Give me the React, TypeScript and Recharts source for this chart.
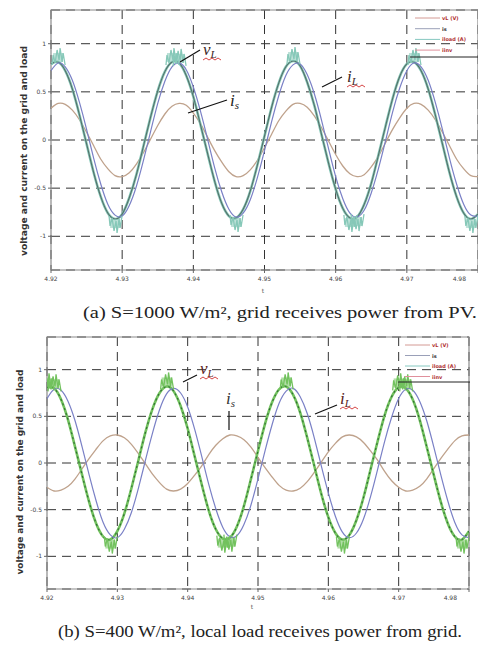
import { LineChart, Line, XAxis, YAxis, CartesianGrid, ReferenceArea } from 'recharts';

const timeA = [
  4.920, 4.921, 4.922, 4.923, 4.924, 4.925, 4.926, 4.927, 4.928, 4.929,
  4.930, 4.931, 4.932, 4.933, 4.934, 4.935, 4.936, 4.937, 4.938, 4.939,
  4.940, 4.941, 4.942, 4.943, 4.944, 4.945, 4.946, 4.947, 4.948, 4.949,
  4.950, 4.951, 4.952, 4.953, 4.954, 4.955, 4.956, 4.957, 4.958, 4.959,
  4.960, 4.961, 4.962, 4.963, 4.964, 4.965, 4.966, 4.967, 4.968, 4.969,
  4.970, 4.971, 4.972, 4.973, 4.974, 4.975, 4.976, 4.977, 4.978, 4.979, 4.980,
];

// (a) S=1000 W/m2
const vLoadA = [
  0.79, 0.81, 0.72, 0.53, 0.26, -0.04, -0.34, -0.59, -0.76, -0.82,
  -0.77, -0.60, -0.36, -0.06, 0.24, 0.51, 0.71, 0.81, 0.80, 0.67,
  0.45, 0.16, -0.14, -0.43, -0.66, -0.79, -0.81, -0.72, -0.53, -0.26,
  0.04, 0.34, 0.59, 0.76, 0.82, 0.77, 0.60, 0.36, 0.06, -0.24,
  -0.51, -0.71, -0.81, -0.80, -0.67, -0.45, -0.16, 0.14, 0.43, 0.66,
  0.79, 0.81, 0.72, 0.53, 0.26, -0.04, -0.34, -0.59, -0.76, -0.82, -0.77,
];
const iLoadA = [
  0.72, 0.80, 0.76, 0.62, 0.39, 0.11, -0.19, -0.46, -0.67, -0.78,
  -0.79, -0.68, -0.48, -0.21, 0.09, 0.38, 0.61, 0.76, 0.80, 0.73,
  0.55, 0.30, 0.01, -0.29, -0.54, -0.72, -0.80, -0.76, -0.62, -0.39,
  -0.11, 0.19, 0.46, 0.67, 0.78, 0.79, 0.68, 0.48, 0.21, -0.09,
  -0.38, -0.61, -0.76, -0.80, -0.73, -0.55, -0.30, -0.01, 0.29, 0.54,
  0.72, 0.80, 0.76, 0.62, 0.39, 0.11, -0.19, -0.46, -0.67, -0.78, -0.79,
];
const iGridA = [
  0.33, 0.38, 0.37, 0.31, 0.21, 0.08, -0.06, -0.20, -0.30, -0.37,
  -0.38, -0.34, -0.25, -0.13, 0.01, 0.15, 0.27, 0.35, 0.38, 0.36,
  0.28, 0.17, 0.03, -0.11, -0.23, -0.33, -0.38, -0.37, -0.31, -0.21,
  -0.08, 0.06, 0.20, 0.30, 0.37, 0.38, 0.34, 0.25, 0.13, -0.01,
  -0.15, -0.27, -0.35, -0.38, -0.36, -0.28, -0.17, -0.03, 0.11, 0.23,
  0.33, 0.38, 0.37, 0.31, 0.21, 0.08, -0.06, -0.20, -0.30, -0.37, -0.38,
];

// (b) S=400 W/m2
const vLoadB = [
  0.81, 0.80, 0.68, 0.46, 0.17, -0.13, -0.42, -0.65, -0.79, -0.82,
  -0.73, -0.54, -0.27, 0.03, 0.33, 0.58, 0.75, 0.82, 0.77, 0.61,
  0.37, 0.07, -0.23, -0.51, -0.71, -0.81, -0.80, -0.68, -0.46, -0.17,
  0.13, 0.42, 0.65, 0.79, 0.82, 0.73, 0.54, 0.27, -0.03, -0.33,
  -0.58, -0.75, -0.82, -0.77, -0.61, -0.37, -0.07, 0.23, 0.51, 0.71,
  0.81, 0.80, 0.68, 0.46, 0.17, -0.13, -0.42, -0.65, -0.79, -0.82, -0.73,
];
const iLoadB = [
  0.69, 0.79, 0.78, 0.66, 0.45, 0.17, -0.13, -0.41, -0.64, -0.77,
  -0.80, -0.71, -0.53, -0.27, 0.03, 0.32, 0.57, 0.74, 0.80, 0.75,
  0.60, 0.36, 0.07, -0.23, -0.49, -0.69, -0.79, -0.78, -0.66, -0.45,
  -0.17, 0.13, 0.41, 0.64, 0.77, 0.80, 0.71, 0.53, 0.27, -0.03,
  -0.32, -0.57, -0.74, -0.80, -0.75, -0.60, -0.36, -0.07, 0.23, 0.49,
  0.69, 0.79, 0.78, 0.66, 0.45, 0.17, -0.13, -0.41, -0.64, -0.77, -0.80,
];
const iGridB = [
  -0.26, -0.30, -0.29, -0.25, -0.17, -0.06, 0.05, 0.15, 0.24, 0.29,
  0.30, 0.27, 0.20, 0.10, -0.01, -0.12, -0.21, -0.28, -0.30, -0.28,
  -0.22, -0.13, -0.03, 0.09, 0.19, 0.26, 0.30, 0.29, 0.25, 0.17,
  0.06, -0.05, -0.15, -0.24, -0.29, -0.30, -0.27, -0.20, -0.10, 0.01,
  0.12, 0.21, 0.28, 0.30, 0.28, 0.22, 0.13, 0.03, -0.09, -0.19,
  -0.26, -0.30, -0.29, -0.25, -0.17, -0.06, 0.05, 0.15, 0.24, 0.29, 0.30,
];

const xTicks = [4.92, 4.93, 4.94, 4.95, 4.96, 4.97, 4.98];
const yTicks = [-1, -0.5, 0, 0.5, 1];
const legendLabels = ['vL (V)', 'is', 'iload (A)', 'iinv'];

const dataA = timeA.map((t, i) => ({ t, vL: vLoadA[i], iL: iLoadA[i], is: iGridA[i] }));
const dataB = timeA.map((t, i) => ({ t, vL: vLoadB[i], iL: iLoadB[i], is: iGridB[i] }));

// switching ripple drawn at the voltage peaks
const spikeDot = (color: string) => (p: any) => {
  const { cx, cy, value, index } = p;
  if (cx == null || cy == null || Math.abs(value) < 0.8) return <g key={'s' + index} />;
  const dir = value > 0 ? 1 : -1;
  const pts = [[-6, 3], [-5, -7], [-3, 1], [-1, -12], [1, -2], [2, -14], [4, 0], [5, -9], [7, 3]];
  const d = pts.map(([dx, dy], i) => `${i ? 'L' : 'M'}${cx + dx},${cy + dy * dir}`).join(' ');
  return (
    <g key={'s' + index}>
      <rect x={cx - 5} y={dir > 0 ? cy - 9 : cy} width={10} height={9} fill={color} opacity={0.55} />
      <path d={d} fill="none" stroke={color} strokeWidth={1.3} />
    </g>
  );
};

// last tick label is right-aligned so it stays inside the page
const XTick = (p: any) => {
  const { x, y, payload } = p;
  const last = payload.value >= 4.98;
  return (
    <text x={x} y={y + 6} textAnchor={last ? 'end' : 'middle'} fontSize={6} fill="#444" fontFamily="DejaVu Sans">
      {payload.value.toFixed(2)}
    </text>
  );
};

const Panel = ({ data, width, height, yw, green, dark, dashed }: any) => (
  <LineChart width={width} height={height} data={data} margin={{ top: 10, right: 2, bottom: 10, left: 0 }}>
    <CartesianGrid stroke="#333" strokeDasharray="9 6" />
    <ReferenceArea x1={4.92} x2={4.98} y1={-1.35} y2={1.35} fill="none" stroke="#8a8a8a" strokeWidth={1.2} ifOverflow="visible" />
    <XAxis type="number" dataKey="t" domain={[4.92, 4.98]} ticks={xTicks} allowDataOverflow
      tick={<XTick />} tickSize={3} tickLine={{ stroke: '#666' }} axisLine={false} height={20} />
    <YAxis type="number" domain={[-1.35, 1.35]} ticks={yTicks} allowDataOverflow width={yw}
      tick={{ fontSize: 6, fill: '#444', fontFamily: 'DejaVu Sans' }} tickSize={3} tickLine={{ stroke: '#666' }} axisLine={false} />
    <Line type="natural" dataKey="is" stroke="#bfa28c" strokeWidth={1.3} dot={false} isAnimationActive={false} />
    <Line type="natural" dataKey="vL" stroke={green} strokeWidth={2.6} dot={spikeDot(green)} isAnimationActive={false} />
    <Line type="natural" dataKey="vL" stroke={dark} strokeWidth={1.1} strokeDasharray={dashed ? '2 3' : undefined} dot={false} isAnimationActive={false} />
    <Line type="natural" dataKey="iL" stroke="#7a80c6" strokeWidth={1.2} dot={false} isAnimationActive={false} />
  </LineChart>
);

const legendColors = ['#d49a94', '#9aa0b8', '#86c8c0', '#e0909c'];
const legendText = ['#b03030', '#333', '#b03030', '#b03030'];

const Legend = ({ x, y, step, box }: any) => (
  <g>
    {legendLabels.map((l, i) => (
      <g key={l}>
        <line x1={x} x2={x + 25} y1={y + i * step} y2={y + i * step} stroke={legendColors[i]} strokeWidth={1} />
        <text x={x + 27} y={y + i * step + 2} fontSize={5} fill={legendText[i]} fontFamily="DejaVu Sans" fontWeight="bold">{l}</text>
      </g>
    ))}
    <line x1={box[0]} x2={box[1]} y1={box[2]} y2={box[2]} stroke="#222" strokeWidth={1} />
  </g>
);

const Sym = ({ x, y, base, sub, color, line }: any) => (
  <g>
    <text x={x} y={y} fontSize={17} fontStyle="italic" fontFamily="Liberation Serif" fill={color}>
      {base}<tspan fontSize={11} dy={3}>{sub}</tspan>
    </text>
    {line && <path d={`M${x},${y + 5} l3,-2 l3,2 l3,-2 l3,2 l3,-2 l3,2`} fill="none" stroke="#d03030" strokeWidth={0.9} />}
  </g>
);

export default function App() {
  const yLabel = 'voltage and current on the grid and load';
  return (
    <div style={{ position: 'absolute', left: 0, top: 0, width: 478, height: 645, overflow: 'hidden', background: '#fff' }}>
      <div style={{ position: 'absolute', left: 0, top: 0 }}>
        <Panel data={dataA} width={480} height={300} yw={51} green="#86c8b8" dark="#55706a" />
      </div>
      <div style={{ position: 'absolute', left: 0, top: 327 }}>
        <Panel data={dataB} width={471} height={292} yw={47} green="#72c25e" dark="#2f6b34" dashed />
      </div>
      <svg width={478} height={645} style={{ position: 'absolute', left: 0, top: 0, pointerEvents: 'none' }}>
        <text x={24} y={151} transform="rotate(-90 24 151)" textAnchor="middle" dominantBaseline="middle"
          fontSize={8} fontWeight="bold" fontFamily="DejaVu Sans" fill="#333" textLength={210} lengthAdjust="spacingAndGlyphs">{yLabel}</text>
        <text x={20} y={472} transform="rotate(-90 20 472)" textAnchor="middle" dominantBaseline="middle"
          fontSize={8} fontWeight="bold" fontFamily="DejaVu Sans" fill="#333" textLength={205} lengthAdjust="spacingAndGlyphs">{yLabel}</text>
        <text x={263} y={293} fontSize={6} fill="#555" textAnchor="middle" fontFamily="DejaVu Sans">t</text>
        <text x={252} y={609} fontSize={6} fill="#555" textAnchor="middle" fontFamily="DejaVu Sans">t</text>

        <Legend x={415} y={18} step={10.7} box={[410, 478, 57]} />
        <Legend x={405} y={345} step={10.5} box={[398, 470, 382]} />

        <line x1={180} y1={62} x2={200} y2={50} stroke="#111" strokeWidth={1.2} />
        <Sym x={203} y={55} base="v" sub="L" color="#3a2626" line />
        <line x1={188} y1={113} x2={227} y2={100} stroke="#111" strokeWidth={1.2} />
        <Sym x={230} y={106} base="i" sub="s" color="#222" />
        <line x1={322} y1={87} x2={342} y2={77} stroke="#111" strokeWidth={1.2} />
        <Sym x={347} y={82} base="i" sub="L" color="#3a2626" line />

        <line x1={183} y1={382} x2={197} y2={375} stroke="#111" strokeWidth={1.2} />
        <Sym x={200} y={374} base="v" sub="L" color="#5a2222" line />
        <Sym x={226} y={404} base="i" sub="s" color="#333" />
        <line x1={229} y1={411} x2={229} y2={430} stroke="#111" strokeWidth={1.2} />
        <line x1={315} y1={414} x2={337} y2={405} stroke="#111" strokeWidth={1.2} />
        <Sym x={340} y={404} base="i" sub="L" color="#5a2222" line />

        <text x={83} y={318} fontSize={16} fontFamily="Liberation Serif" fill="#222" textLength={394} lengthAdjust="spacingAndGlyphs">
          (a) S=1000 W/m², grid receives power from PV.
        </text>
        <text x={58} y={637} fontSize={16} fontFamily="Liberation Serif" fill="#222" textLength={404} lengthAdjust="spacingAndGlyphs">
          (b) S=400 W/m², local load receives power from grid.
        </text>
      </svg>
    </div>
  );
}
